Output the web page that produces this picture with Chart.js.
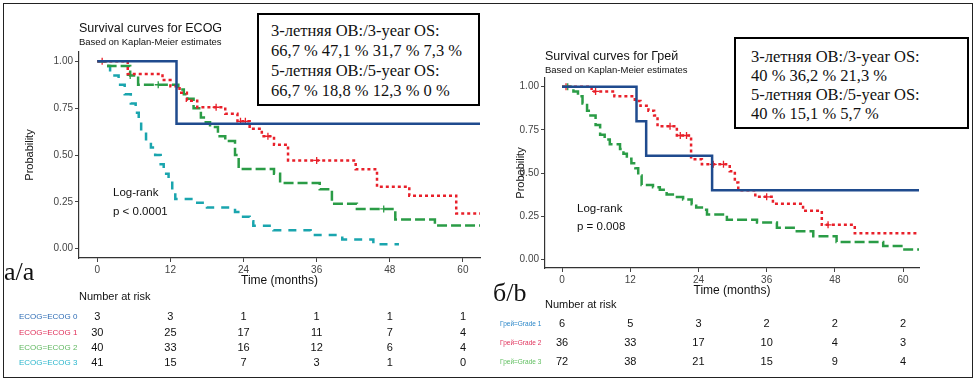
<!DOCTYPE html>
<html>
<head>
<meta charset="utf-8">
<script src="https://cdn.jsdelivr.net/npm/chart.js@4.4.0/dist/chart.umd.min.js"></script>
<style>
  body { margin: 0; background: #fff; }
  #wrap { position: relative; width: 977px; height: 382px; overflow: hidden; font-family: "Liberation Sans", Arial, sans-serif; }
  canvas { position: absolute; top: 0; }
  .frame { position: absolute; left: 3px; top: 3px; width: 968px; height: 373px; border: 1.5px solid #222; pointer-events: none; }
  .box { position: absolute; border: 2px solid #000; background: #fff; font-family: "Liberation Serif", "Times New Roman", serif; font-size: 16.5px; color: #111; box-sizing: border-box; }
  .t { position: absolute; white-space: nowrap; color: #111; line-height: 1; }
  .serif { font-family: "Liberation Serif", "Times New Roman", serif; }
</style>
</head>
<body>
<div id="wrap">
  <canvas id="ecogChart" width="490" height="382" style="left:0"></canvas>
  <canvas id="gradeChart" width="487" height="382" style="left:490px"></canvas>

  <div class="t" style="left:79px;top:22px;font-size:12.5px">Survival curves for ECOG</div>
  <div class="t" style="left:79px;top:37px;font-size:9.5px">Based on Kaplan-Meier estimates</div>
  <div class="t" style="left:545px;top:50px;font-size:12.5px">Survival curves for Грей</div>
  <div class="t" style="left:545px;top:65px;font-size:9.5px">Based on Kaplan-Meier estimates</div>

  <div class="t" style="left:113px;top:187px;font-size:11.5px">Log-rank</div>
  <div class="t" style="left:113px;top:206px;font-size:11.5px">p &lt; 0.0001</div>
  <div class="t" style="left:577px;top:203px;font-size:11.5px">Log-rank</div>
  <div class="t" style="left:577px;top:221px;font-size:11.5px">p = 0.008</div>

  <div class="t serif" style="left:4px;top:259px;font-size:26px">а/а</div>
  <div class="t serif" style="left:493px;top:280px;font-size:26px">б/b</div>

  <div class="box" style="left:257px;top:13px;width:223px;height:93px;padding:6px 0 0 12px;line-height:20px">
    3-летняя ОВ:/3-year OS:<br>66,7 % 47,1 % 31,7 % 7,3 %<br>5-летняя ОВ:/5-year OS:<br>66,7 % 18,8 % 12,3 % 0 %
  </div>
  <div class="box" style="left:734px;top:37px;width:235px;height:92px;padding:8px 0 0 15px;line-height:19px">
    3-летняя ОВ:/3-year OS:<br>40 % 36,2 % 21,3 %<br>5-летняя ОВ:/5-year OS:<br>40 % 15,1 % 5,7 %
  </div>
  <div class="frame"></div>
</div>

<script>
// ticks
const timeTicks = [0, 12, 24, 36, 48, 60];
const probTicks = [0, 0.25, 0.5, 0.75, 1];

// ECOG curves, [month, survival]
const ecog0 = [[0, 1], [13, 0.667], [62.8, 0.667]];
const ecog1 = [[0, 1], [5, 0.933], [10.7, 0.9], [12, 0.867], [13.5, 0.833], [14.7, 0.79], [16.4, 0.755], [21, 0.72],
  [23, 0.68], [25, 0.64], [27, 0.6], [29, 0.555], [31.3, 0.471], [42.4, 0.424], [45.9, 0.33], [51.2, 0.283],
  [58.9, 0.188], [62.8, 0.188]];
const ecog2 = [[0, 1], [1.8, 0.975], [5.4, 0.925], [6.7, 0.875], [13.3, 0.85], [14.2, 0.825], [14.8, 0.8],
  [15.8, 0.75], [17, 0.7], [17.8, 0.675], [18.5, 0.65], [19.8, 0.6], [21, 0.575], [22.6, 0.5], [23.2, 0.425],
  [29, 0.4], [30, 0.35], [36.5, 0.317], [38.5, 0.24], [42.6, 0.212], [48.9, 0.155], [55.4, 0.123], [62.8, 0.123]];
const ecog3 = [[0, 1], [1.8, 0.975], [2.1, 0.925], [3.5, 0.875], [4.5, 0.825], [5.5, 0.775], [6.3, 0.725],
  [6.8, 0.675], [7.2, 0.625], [8, 0.575], [8.8, 0.54], [9.5, 0.5], [10.4, 0.45], [10.9, 0.4], [11.7, 0.36],
  [12.3, 0.3], [12.8, 0.265], [16.4, 0.245], [18, 0.22], [22.6, 0.195], [23.4, 0.17], [25, 0.146],
  [25.6, 0.122], [28.9, 0.098], [35, 0.073], [40.2, 0.049], [45.3, 0.024], [49.5, 0.024]];
const ecog1Censor = [[0.8, 1], [19.5, 0.755], [23.5, 0.68], [24.3, 0.68], [28, 0.6], [36, 0.471]];
const ecog2Censor = [[5.4, 0.925], [10, 0.875], [47, 0.212]];

// Grade curves
const grade1 = [[0, 1], [13.1, 0.8], [14.8, 0.6], [26.4, 0.4], [62.8, 0.4]];
const grade2 = [[0, 1], [5.2, 0.972], [9.2, 0.944], [12.8, 0.917], [13.8, 0.889], [15.2, 0.861], [16.2, 0.833],
  [16.8, 0.771], [20.2, 0.717], [22.7, 0.58], [24.6, 0.55], [29.5, 0.51], [30.4, 0.445], [31, 0.4],
  [34, 0.362], [37.1, 0.322], [42.4, 0.282], [45.7, 0.2], [51.5, 0.151], [62.8, 0.151]];
const grade3 = [[0, 1], [2, 0.972], [2.8, 0.944], [3.6, 0.903], [4.4, 0.861], [5, 0.833], [5.9, 0.778],
  [6.7, 0.722], [7.5, 0.694], [8.4, 0.667], [10.2, 0.639], [10.8, 0.611], [11.4, 0.583], [12.2, 0.556],
  [12.9, 0.528], [13.4, 0.486], [14, 0.431], [16, 0.417], [17.2, 0.403], [18.4, 0.375], [19.9, 0.361],
  [21.3, 0.347], [22.8, 0.319], [23.6, 0.3], [24.6, 0.287], [25.5, 0.26], [29, 0.23], [34.3, 0.213],
  [37.8, 0.183], [41.3, 0.163], [44.2, 0.134], [48.3, 0.1], [56.5, 0.077], [60, 0.057], [62.8, 0.057]];
const grade2Censor = [[0.7, 1], [5.9, 0.972], [19, 0.771], [20.8, 0.717], [21.9, 0.717], [26.6, 0.55], [28.4, 0.55],
  [36, 0.362], [46.8, 0.2]];
const grade3Censor = [[1, 1]];

// number at risk
const ecogGroups = ['ECOG=ECOG 0', 'ECOG=ECOG 1', 'ECOG=ECOG 2', 'ECOG=ECOG 3'];
const ecogRisk = [[3, 3, 1, 1, 1, 1], [30, 25, 17, 11, 7, 4], [40, 33, 16, 12, 6, 4], [41, 15, 7, 3, 1, 0]];
const gradeGroups = ['Грей=Grade 1', 'Грей=Grade 2', 'Грей=Grade 3'];
const gradeRisk = [[6, 5, 3, 2, 2, 2], [36, 33, 17, 10, 4, 3], [72, 38, 21, 15, 9, 4]];

Chart.defaults.font.family = '"Liberation Sans", Arial, sans-serif';

const BLUE = '#1f4b8e', RED = '#e8202a', GREEN = '#2a9c46', CYAN = '#1aa5ae';

function toXY(pairs) {
  return pairs.map(p => ({ x: p[0], y: p[1] }));
}

// stepped 'before': horizontal at the old value, then drop at the next time
function kmSet(pairs, color, dash) {
  return {
    data: toXY(pairs),
    borderColor: color,
    borderWidth: 2.5,
    borderDash: dash,
    stepped: 'before',
    pointRadius: 0,
    fill: false
  };
}

function censorSet(pairs, color) {
  return {
    type: 'scatter',
    data: toXY(pairs),
    pointStyle: 'cross',
    pointRadius: 3.5,
    borderColor: color,
    borderWidth: 1.3,
    showLine: false
  };
}

const riskTable = {
  id: 'riskTable',
  afterDraw(chart, args, opts) {
    const ctx = chart.ctx;
    const xs = chart.scales.x;
    ctx.save();
    ctx.textBaseline = 'middle';
    ctx.font = '11px "Liberation Sans", Arial';
    ctx.fillStyle = '#111';
    ctx.textAlign = 'left';
    ctx.fillText('Number at risk', opts.headX, opts.headY);
    opts.rows.forEach((row, i) => {
      ctx.font = opts.labelFont;
      ctx.fillStyle = opts.labelColors[i];
      ctx.textAlign = 'left';
      ctx.fillText(opts.labels[i], opts.labelX, opts.rowY[i]);
      ctx.font = '11px "Liberation Sans", Arial';
      ctx.fillStyle = '#111';
      ctx.textAlign = 'center';
      row.forEach((n, j) => ctx.fillText(String(n), xs.getPixelForValue(timeTicks[j]), opts.rowY[i]));
    });
    ctx.restore();
  }
};

function makeOptions(pad, yWidth, risk) {
  return {
    responsive: false,
    animation: false,
    layout: { padding: pad },
    plugins: { legend: { display: false }, tooltip: { enabled: false }, riskTable: risk },
    scales: {
      x: {
        type: 'linear',
        min: -3,
        max: 62.8,
        afterBuildTicks: s => { s.ticks = timeTicks.map(v => ({ value: v })); },
        afterFit: s => { s.height = 31; },
        grid: { display: true, drawOnChartArea: false, drawTicks: true, tickLength: 4, color: '#444' },
        border: { display: true, color: '#333', width: 1.2 },
        ticks: { font: { size: 10 }, color: '#444', padding: 2, maxRotation: 0 },
        title: { display: true, text: 'Time (months)', font: { size: 12 }, color: '#111', padding: { top: 0, bottom: 1 } }
      },
      y: {
        min: -0.05,
        max: 1.05,
        afterBuildTicks: s => { s.ticks = probTicks.map(v => ({ value: v })); },
        afterFit: s => { s.width = yWidth; },
        grid: { display: true, drawOnChartArea: false, drawTicks: true, tickLength: 4, color: '#444' },
        border: { display: true, color: '#333', width: 1.2 },
        ticks: { font: { size: 10 }, color: '#444', padding: 2, callback: v => v.toFixed(2) },
        title: { display: true, text: 'Probability', font: { size: 11 }, color: '#111' }
      }
    }
  };
}

new Chart(document.getElementById('ecogChart'), {
  type: 'line',
  data: {
    datasets: [
      kmSet(ecog0, BLUE, []),
      kmSet(ecog1, RED, [3, 3]),
      kmSet(ecog2, GREEN, [10, 4]),
      kmSet(ecog3, CYAN, [8, 7]),
      censorSet(ecog1Censor, RED),
      censorSet(ecog2Censor, GREEN)
    ]
  },
  options: makeOptions({ left: 19, right: 10, top: 52, bottom: 93 }, 60, {
    headX: 79, headY: 297, labelX: 19, labelFont: '8px "Liberation Sans", Arial',
    labels: ecogGroups, labelColors: ['#2f6db5', '#e0305a', '#62b862', '#2bb6cc'],
    rows: ecogRisk, rowY: [317, 333, 348, 363]
  }),
  plugins: [riskTable]
});

new Chart(document.getElementById('gradeChart'), {
  type: 'line',
  data: {
    datasets: [
      kmSet(grade1, BLUE, []),
      kmSet(grade2, RED, [3, 3]),
      kmSet(grade3, GREEN, [10, 4]),
      censorSet(grade2Censor, RED),
      censorSet(grade3Censor, GREEN)
    ]
  },
  options: makeOptions({ left: 20, right: 58, top: 78, bottom: 83 }, 35, {
    headX: 55, headY: 305, labelX: 10, labelFont: '6.5px "Liberation Sans", Arial',
    labels: gradeGroups, labelColors: ['#2a86c8', '#e0305a', '#5ebe5e'],
    rows: gradeRisk, rowY: [324, 343, 362]
  }),
  plugins: [riskTable]
});
</script>
</body>
</html>
